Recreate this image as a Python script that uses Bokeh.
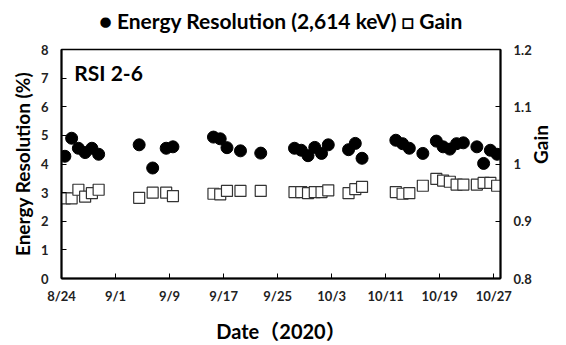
import math
from datetime import date
from bokeh.plotting import figure
from bokeh.models import (Range1d, LinearAxis, FixedTicker, ColumnDataSource,
                          Title, NumeralTickFormatter, Label)
from bokeh.embed import file_html
from bokeh.resources import INLINE

# ---- data ----
dates = ["8/24", "8/25", "8/26", "8/27", "8/28", "8/29",
         "9/4", "9/6", "9/8", "9/9",
         "9/15", "9/16", "9/17", "9/19", "9/22",
         "9/27", "9/28", "9/29", "9/30", "10/1", "10/2",
         "10/5", "10/6", "10/7",
         "10/12", "10/13", "10/14", "10/16", "10/18", "10/19", "10/20",
         "10/21", "10/22", "10/24", "10/25", "10/26", "10/27"]
energy_resolution = [4.27, 4.90, 4.55, 4.40, 4.55, 4.34,
                     4.67, 3.86, 4.55, 4.60,
                     4.94, 4.88, 4.57, 4.46, 4.38,
                     4.55, 4.48, 4.29, 4.58, 4.37, 4.67,
                     4.50, 4.72, 4.20,
                     4.83, 4.71, 4.55, 4.37, 4.80, 4.60, 4.52,
                     4.71, 4.74, 4.60, 4.02, 4.48, 4.34]
gain = [0.940, 0.940, 0.955, 0.943, 0.949, 0.955,
        0.941, 0.950, 0.950, 0.944,
        0.948, 0.947, 0.953, 0.953, 0.953,
        0.951, 0.951, 0.949, 0.951, 0.951, 0.954,
        0.949, 0.956, 0.960,
        0.951, 0.948, 0.949, 0.962, 0.974, 0.971, 0.969,
        0.964, 0.964, 0.964, 0.967, 0.967, 0.962]
tick_labels = ["8/24", "9/1", "9/9", "9/17", "9/25", "10/3", "10/11", "10/19", "10/27"]
er_ticks = [0, 1, 2, 3, 4, 5, 6, 7, 8]
gain_ticks = [0.8, 0.9, 1.0, 1.1, 1.2]

start = date(2020, 8, 24)


def offset(s):
    m, d = map(int, s.split("/"))
    return (date(2020, m, d) - start).days


# Excel-style date axis: points sit in the middle of their day slot
x = [offset(s) + 0.5 for s in dates]
tick_pos = [offset(s) for s in tick_labels]

src = ColumnDataSource(dict(x=x, er=energy_resolution, gain=gain))

FONT = "Lato, 'Noto Sans CJK JP'"

p = figure(width=566, height=345, output_backend="svg", toolbar_location=None,
           title=None,
           x_range=Range1d(0, 65), y_range=Range1d(0, 8),
           min_border_left=61, min_border_right=66, min_border_top=49,
           min_border_bottom=64, background_fill_color="white",
           border_fill_color="white")
# spacer (closest to the frame) and then the legend-like title above it
p.add_layout(Title(text=" ", text_font_size="13px", standoff=0), "above")
p.add_layout(Title(text="\u25CF Energy Resolution (2,614 keV) \u25A1 Gain", align="center",
                   text_font=FONT, text_font_size="21px", text_font_style="bold",
                   text_color="black", standoff=0), "above")
p.extra_y_ranges = {"gain": Range1d(0.8, 1.2)}

p.xgrid.visible = False
p.ygrid.visible = False
p.outline_line_color = "black"
p.outline_line_width = 1.5

p.scatter("x", "gain", source=src, y_range_name="gain", marker="square", size=11,
          fill_color="white", line_color="#333333", line_width=1.2)
p.scatter("x", "er", source=src, marker="circle", size=12,
          fill_color="black", line_color="black")

# axes styling
xa = p.xaxis[0]
xa.ticker = FixedTicker(ticks=tick_pos)
xa.major_label_overrides = {tp: lab for tp, lab in zip(tick_pos, tick_labels)}
xa.axis_label = "Date\uFF082020\uFF09"

ya = p.yaxis[0]
ya.ticker = FixedTicker(ticks=er_ticks)
ya.axis_label = "Energy Resolution (%)"

ra = LinearAxis(y_range_name="gain", ticker=FixedTicker(ticks=gain_ticks),
                formatter=NumeralTickFormatter(format="0.[0]"), axis_label="Gain")
p.add_layout(ra, "right")

for ax in (xa, ya, ra):
    ax.axis_line_color = "black"
    ax.axis_line_width = 2
    ax.major_tick_in = 5
    ax.major_tick_out = 0
    ax.major_tick_line_color = "black"
    ax.major_tick_line_width = 1
    ax.minor_tick_line_color = None
    ax.major_label_text_font = FONT
    ax.major_label_text_font_size = "13px"
    ax.major_label_text_font_style = "bold"
    ax.major_label_text_color = "#222222"
    ax.axis_label_text_font = FONT
    ax.axis_label_text_font_size = "19px"
    ax.axis_label_text_font_style = "bold"
    ax.axis_label_text_color = "black"

ra.axis_label_orientation = math.pi / 2
xa.axis_label_text_font_size = "20px"

xa.major_label_standoff = 9
xa.axis_label_standoff = 12
ya.major_label_standoff = 13
ya.axis_label_standoff = 4
ra.major_label_standoff = 13
ra.axis_label_standoff = 6

p.add_layout(Label(x=1.9, y=6.75, text="RSI 2-6", text_font=FONT,
                   text_font_size="21px", text_font_style="bold", text_color="black"))

open("out.html", "w").write(file_html(p, INLINE))
